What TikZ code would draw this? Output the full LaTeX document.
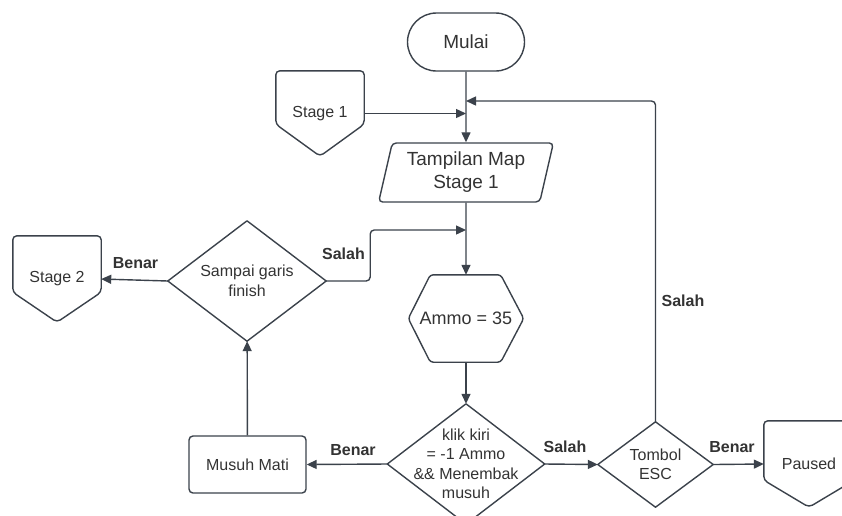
\documentclass[tikz,border=0pt]{standalone}
\usepackage{fontspec}
\setmainfont{Liberation Sans}
\usetikzlibrary{arrows.meta,shapes.geometric}
\definecolor{ink}{HTML}{3B424B}
\definecolor{txt}{HTML}{333333}
\tikzset{
  base/.style={text=txt, font=\fontsize{16}{19.5}\selectfont, align=center, inner sep=0pt},
  big/.style={font=\fontsize{19}{23}\selectfont},
  edge/.style={draw=ink, line width=1.4pt},
  flow/.style={edge, -{Triangle[length=10pt,width=9pt]}},
  lbl/.style={text=txt, font=\fontsize{16}{19}\selectfont\bfseries},
}
\begin{document}
\begin{tikzpicture}[x=1pt,y=-1pt]
  \useasboundingbox (0,0) rectangle (842,515);
  % nodes
  \node[base, big, edge, rounded corners=29pt, minimum width=117pt, minimum height=58pt] (mulai) at (466,42) {Mulai};
  \node[base, minimum width=88pt, minimum height=85pt] (stage1) at (320,113.5) {Stage 1};
  \node[base, big, edge, trapezium, trapezium left angle=75, trapezium right angle=105,
        trapezium stretches=true, minimum width=175pt, minimum height=59pt,
        rounded corners=4pt] (map) at (466,172.5) {Tampilan Map\\Stage 1};
  \node[base, minimum width=158pt, minimum height=120pt] (finish) at (247,281) {Sampai garis\\finish};
  \node[base, minimum width=88pt, minimum height=86pt] (stage2) at (57,279) {Stage 2};
  \node[base, font=\fontsize{18}{22}\selectfont, minimum width=115pt, minimum height=87pt] (ammo) at (466,318.5) {Ammo = 35};
  \node[base, minimum width=157pt, minimum height=120pt] (klik) at (466,464) {klik kiri\\= -1 Ammo\\\&\& Menembak\\musuh};
  \node[base, edge, rounded corners=4pt, minimum width=117pt, minimum height=57pt] (musuh) at (247.5,464.5) {Musuh Mati};
  \node[base, minimum width=115pt, minimum height=85pt] (esc) at (655.5,464.5) {Tombol\\ESC};
  \node[base, minimum width=90pt, minimum height=86pt] (paused) at (809,464) {Paused};

  % outlines
  \foreach \n/\d in {stage1/32,stage2/30,paused/27}
    \draw[edge, rounded corners=4pt] (\n.north west) -- (\n.north east) -- ([yshift=\d pt]\n.south east)
      -- (\n.south) -- ([yshift=\d pt]\n.south west) -- cycle;
  \foreach \n in {finish,klik,esc}
    \draw[edge, line join=round] (\n.west) -- (\n.north) -- (\n.east) -- (\n.south) -- cycle;
  \draw[edge, rounded corners=3pt] (ammo.west) -- ([xshift=22pt]ammo.north west) -- ([xshift=-23pt]ammo.north east)
    -- (ammo.east) -- ([xshift=-23pt]ammo.south east) -- ([xshift=22pt]ammo.south west) -- cycle;

  % connectors
  \coordinate (back) at (466,101);
  \coordinate (merge) at (466,230);
  \draw[flow] (mulai) -- (map);
  \draw[flow] (stage1.east) -- (stage1.east -| mulai.south);
  \draw[flow, rounded corners=4pt] (esc.north) |- (back);
  \draw[flow] (map) -- (ammo);
  \draw[flow, rounded corners=4pt] (finish.east) -- ++(44,0) |- (merge);
  \draw[flow] (finish.west) -- (stage2.east);
  \draw[flow] (ammo) -- (klik);
  \draw[flow] (klik.west) -- (musuh.east);
  \draw[flow] (musuh) -- (finish);
  \draw[flow] (klik.east) -- (esc.west);
  \draw[flow] (esc.east) -- (paused.west);

  % labels
  \node[lbl] (l1) at (343.5,254) {Salah};
  \node[lbl] (l2) at (135.5,263) {Benar};
  \node[lbl] (l3) at (353,450) {Benar};
  \node[lbl] (l4) at (565,447) {Salah};
  \node[lbl] (l5) at (732,447) {Benar};
  \node[lbl] (l6) at (683,301) {Salah};
\end{tikzpicture}
\end{document}
